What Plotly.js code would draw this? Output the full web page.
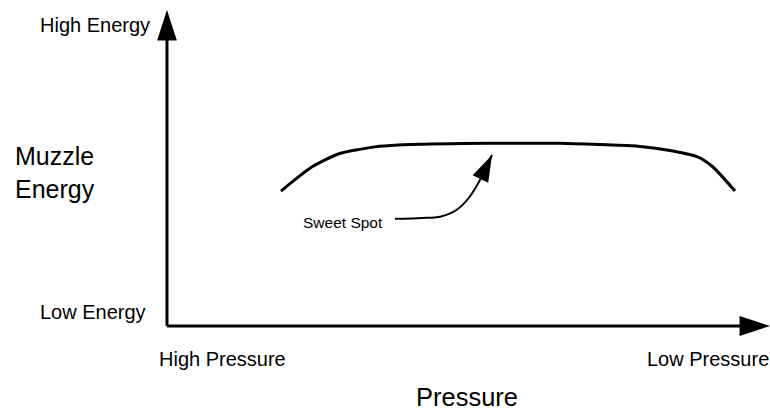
<!DOCTYPE html>
<html>
<head>
<meta charset="utf-8">
<script src="https://cdn.plot.ly/plotly-3.0.1.min.js"></script>
<style>html,body{margin:0;padding:0;background:#fff;}#chart{width:770px;height:411px;}</style>
</head>
<body>
<div id="chart"></div>
<script>
// Muzzle energy curve (pressure index 0 = high pressure, 100 = low pressure; energy 0..100)
const pressure = [18.9, 24.0, 28.5, 34.2, 40.3, 53.7, 65.2, 71.8, 78.1, 83.9, 87.9, 90.5, 94.2];
const energy   = [42.7, 50.3, 54.5, 56.6, 57.4, 57.8, 57.8, 57.4, 56.9, 55.4, 53.6, 50.4, 42.7];

// "Sweet Spot" pointer path
const pointerX = [37.8, 42.3, 45.3, 48.0, 50.2, 51.9, 53.9];
const pointerY = [33.9, 34.2, 34.6, 36.7, 40.9, 46.2, 54.1];

// Axis extents and labels
const axisMax = 100;
const yLabels = ["High Energy", "Low Energy"];
const xLabels = ["High Pressure", "Low Pressure"];
const yTitle = "Muzzle<br>Energy";
const xTitle = "Pressure";
const pointerLabel = "Sweet Spot";

const FONT = "Liberation Sans, Arial, Helvetica, sans-serif";

function arrowMarker(n, size) {
  return {symbol: "arrow", angleref: "previous", opacity: 1,
          size: Array.from({length: n}, (v, i) => i === n - 1 ? size : 0),
          color: "#000", line: {width: 0, color: "#000"}};
}

const traces = [
  { // x axis with arrow
    x: [0, axisMax], y: [0, 0], mode: "lines+markers", cliponaxis: false,
    line: {color: "#000", width: 3},
    marker: arrowMarker(2, 32),
    hoverinfo: "skip", showlegend: false
  },
  { // y axis with arrow
    x: [0, 0], y: [0, axisMax], mode: "lines+markers", cliponaxis: false,
    line: {color: "#000", width: 3},
    marker: arrowMarker(2, 32),
    hoverinfo: "skip", showlegend: false
  },
  { // energy curve
    x: pressure, y: energy, mode: "lines",
    line: {color: "#000", width: 3, shape: "spline", smoothing: 0.6},
    hoverinfo: "skip", showlegend: false
  },
  { // sweet spot pointer
    x: pointerX, y: pointerY, mode: "lines+markers", cliponaxis: false,
    line: {color: "#000", width: 2, shape: "spline", smoothing: 0.8},
    marker: arrowMarker(pointerX.length, 28),
    hoverinfo: "skip", showlegend: false
  }
];

function ann(text, x, y, xanchor, size, align) {
  return {text: text, x: x, y: y, xref: "x", yref: "y", xanchor: xanchor, yanchor: "middle",
          align: align || "left", showarrow: false, font: {family: FONT, size: size, color: "#000"}};
}

const layout = {
  width: 770, height: 411,
  margin: {l: 0, r: 0, t: 0, b: 0, pad: 0},
  paper_bgcolor: "#fff", plot_bgcolor: "#fff",
  xaxis: {range: [-27.69, 100], visible: false, fixedrange: true},
  yaxis: {range: [-26.9, 103.16], visible: false, fixedrange: true},
  annotations: [
    ann(yLabels[0], -2.5, 95.25, "right", 20),
    ann(yLabels[1], -3.2, 4.5, "right", 20),
    ann(yTitle, -25.5, 48.6, "left", 25, "left"),
    ann(xLabels[0], -1.6, -10.4, "left", 20),
    ann(xLabels[1], 79.2, -10.4, "left", 20),
    ann(xTitle, 49.75, -22.5, "center", 25.5),
    ann(pointerLabel, 29.2, 32.75, "center", 15.5)
  ]
};

Plotly.newPlot("chart", traces, layout, {displayModeBar: false, staticPlot: true});
</script>
</body>
</html>
